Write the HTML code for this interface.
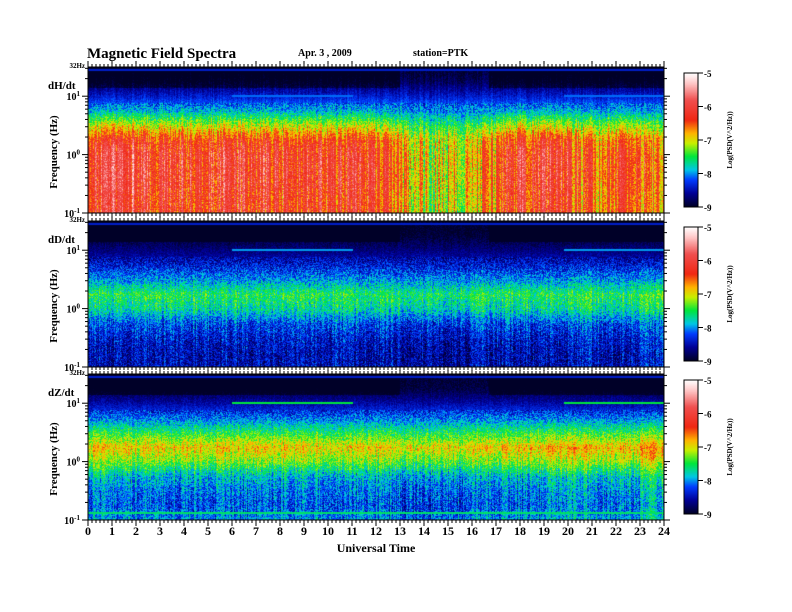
<!DOCTYPE html>
<html><head><meta charset="utf-8">
<style>
body{margin:0;background:#fff;width:792px;height:612px;overflow:hidden;position:relative;font-family:"Liberation Serif",serif;}
canvas{position:absolute;}
svg{position:absolute;left:0;top:0;}
</style></head><body>
<canvas id="c0" width="576" height="146" style="left:88px;top:67px"></canvas>
<canvas id="c1" width="576" height="146" style="left:88px;top:221px"></canvas>
<canvas id="c2" width="576" height="146" style="left:88px;top:374px"></canvas>
<canvas id="cb0" width="14" height="134" style="left:684px;top:73px"></canvas>
<canvas id="cb1" width="14" height="134" style="left:684px;top:227px"></canvas>
<canvas id="cb2" width="14" height="134" style="left:684px;top:380px"></canvas>
<svg id="ov" width="792" height="612">
<text x="87" y="58" font-size="15" font-weight="bold">Magnetic  Field  Spectra</text>
<text x="298" y="56" font-size="10" font-weight="bold">Apr. 3  , 2009</text>
<text x="413" y="56" font-size="10" font-weight="bold">station=PTK</text>
<text x="376" y="552" font-size="12" font-weight="bold" text-anchor="middle">Universal  Time</text>
</svg>
<script>
// ---- data ----
const hours = [0,1,2,3,4,5,6,7,8,9,10,11,12,13,14,15,16,17,18,19,20,21,22,23,24];
const freqNodes = [1.5,1.25,1.0,0.75,0.5,0.25,0,-0.25,-0.5,-0.75,-1];
const profileDH = [-9.0,-8.8,-8.4,-7.9,-7.1,-6.4,-6.2,-6.2,-6.2,-6.3,-6.3];
const profileDD = [-9.0,-8.95,-8.7,-8.4,-8.0,-7.5,-7.7,-8.2,-8.4,-8.5,-8.5];
const profileDZ = [-9.0,-8.9,-8.55,-8.1,-7.5,-6.9,-7.3,-7.9,-8.1,-8.2,-8.0];
const activityDH = [0.2,0.3,0.1,0.1,0,0.1,0.1,0.1,0,0.1,0,0,-0.2,-0.6,-0.8,-0.7,-0.5,0,0.1,0.1,-0.2,-0.3,-0.1,-0.2];
const activityDD = [0,0,0,0,0,0,0,0,0,0,0,0,0,-0.1,-0.1,-0.1,0,0,0,0,0.1,0,0,0.1];
const activityDZ = [0,0,0,0,0,0,0,0,0,0,0,0,0,-0.1,-0.1,-0.1,0,0,0,0.1,0.2,0,0.1,0.3];
const lineIntervals = [[6,11],[19.8,24]];
const cbTicks = [-5,-6,-7,-8,-9];
const panelNames = ['dH/dt','dD/dt','dZ/dt'];

const panels=[
 {c:'c0',top:67,prof:profileDH,act:activityDH,stripe:0.55,noise:0.35,line:-8.1},
 {c:'c1',top:221,prof:profileDD,act:activityDD,stripe:0.2,noise:0.35,line:-8.0},
 {c:'c2',top:374,prof:profileDZ,act:activityDZ,stripe:0.25,noise:0.35,line:-7.5}
];
const W=576,H=146,X0=88;
const xs=h=>X0+h/24*W;
const yu=(top,u)=>top+(1.5-u)/2.5*H;

const stops=[[-9,[0,0,40]],[-8.6,[0,0,150]],[-8.2,[0,60,255]],[-7.9,[0,200,230]],[-7.5,[0,230,60]],[-7.1,[200,240,0]],[-6.8,[255,180,0]],[-6.4,[240,40,20]],[-5.8,[240,80,80]],[-5.3,[255,200,200]],[-5,[255,255,255]]];
function cmap(v){
 if(v<=stops[0][0])return stops[0][1];
 for(let i=1;i<stops.length;i++){if(v<=stops[i][0]){const a=stops[i-1],b=stops[i],t=(v-a[0])/(b[0]-a[0]);return a[1].map((c,k)=>c+(b[1][k]-c)*t);}}
 return stops[stops.length-1][1];
}
function hash(a,b){let h=(a*374761393+b*668265263)^0x5bd1e995;h=(h^(h>>>13))*1274126177;h=h^(h>>>16);return ((h>>>0)%10000)/10000;}
function interp(arr,u){const i=(1.5-u)/0.25;const i0=Math.max(0,Math.min(arr.length-2,Math.floor(i)));const t=Math.min(1,Math.max(0,i-i0));return arr[i0]+(arr[i0+1]-arr[i0])*t;}

panels.forEach((p,pi)=>{
 const ctx=document.getElementById(p.c).getContext('2d');
 const img=ctx.createImageData(W,H);
 for(let x=0;x<W;x++){
  const h=x/W*24;const hi=Math.min(23,Math.floor(h));
  const col=(hash(x,pi*7+1)-0.5)*2;
  const inLine=lineIntervals.some(r=>h>=r[0]&&h<=r[1]);
  const dark=(h<13||h>16.7);
  for(let y=0;y<H;y++){
   const u=1.5-y/H*2.5;
   let v=interp(p.prof,u);
   const w=Math.max(0,Math.min(1,(0.9-u)/0.8));
   v+=p.act[hi]*w;
   v+=col*p.stripe*Math.max(0.2,w);
   v+=(hash(x*3+y,y*17+pi)-0.5)*2*p.noise*(u<0.9?1:0.4);
   if(dark&&u>1.15)v-=0.25;
   if(y<4&&y>=2)v=-8.4;
   if(inLine&&Math.abs(yu(0,u)-yu(0,1.02))<1.0)v=p.line;
   if(pi==2&&y>=H-8&&y<=H-7)v=-7.6;
   const c=cmap(v),k=(y*W+x)*4;
   img.data[k]=c[0];img.data[k+1]=c[1];img.data[k+2]=c[2];img.data[k+3]=255;
  }
 }
 ctx.putImageData(img,0,0);
 const cb=document.getElementById('cb'+pi).getContext('2d');
 for(let y=0;y<134;y++){const v=-5-y/133*4;const c=cmap(v);cb.fillStyle=`rgb(${c[0]|0},${c[1]|0},${c[2]|0})`;cb.fillRect(0,y,14,1);}
});

const svg=document.getElementById('ov');const NS='http://www.w3.org/2000/svg';
function mk(t,a,parent){const e=document.createElementNS(NS,t);for(const k in a)e.setAttribute(k,a[k]);(parent||svg).appendChild(e);return e;}
panels.forEach((p,pi)=>{
 const g=mk('g',{});
 
 
 mk('rect',{x:X0,y:p.top,width:W,height:H,fill:'none',stroke:'#000','stroke-width':1},g);
 hours.forEach(h=>{
  const x=xs(h);
  mk('line',{x1:x,y1:p.top,x2:x,y2:p.top-6,stroke:'#000'},g);
  mk('line',{x1:x,y1:p.top+H,x2:x,y2:p.top+H+6,stroke:'#000'},g);
  if(h<24)for(let m=1;m<6;m++){const xm=xs(h+m/6);mk('line',{x1:xm,y1:p.top,x2:xm,y2:p.top-3,stroke:'#000'},g);mk('line',{x1:xm,y1:p.top+H,x2:xm,y2:p.top+H+3,stroke:'#000'},g);}
 });
 [[1,'10'],[0,'10'],[-1,'10']].forEach(([u,s],i)=>{
  const y=yu(p.top,u);
  mk('line',{x1:X0-6,y1:y,x2:X0,y2:y,stroke:'#000'},g);
  mk('line',{x1:X0+W,y1:y,x2:X0+W+6,y2:y,stroke:'#000'},g);
  const t=mk('text',{x:X0-8,y:y+4,'font-size':10,'font-weight':'bold','text-anchor':'end'},g);
  t.textContent=s;
  const sp=mk('tspan',{dy:-4,'font-size':7},t);sp.textContent=['1','0','-1'][i];
 });
 for(let d=-1;d<1.5;d++)for(let m=2;m<10;m++){const u=d+Math.log10(m);if(u>1.5)break;const y=yu(p.top,u);mk('line',{x1:X0-3,y1:y,x2:X0,y2:y,stroke:'#000'},g);mk('line',{x1:X0+W,y1:y,x2:X0+W+3,y2:y,stroke:'#000'},g);}
 const t32=mk('text',{x:X0-3,y:p.top+1,'font-size':7,'font-weight':'bold','text-anchor':'end'},g);t32.textContent='32Hz';
 const pl=mk('text',{x:48,y:p.top+22,'font-size':11,'font-weight':'bold'},g);pl.textContent=panelNames[pi];
 
 const yt=mk('text',{x:0,y:0,'font-size':11,'font-weight':'bold','text-anchor':'middle',transform:`translate(57,${p.top+85}) rotate(-90)`},g);yt.textContent='Frequency  (Hz)';
 
 const cy=p.top+6;
 mk('rect',{x:684,y:cy,width:14,height:134,fill:'none',stroke:'#000'},g);
 cbTicks.forEach((v,i)=>{const y=cy+(-5-v)/4*134;mk('line',{x1:698,y1:y,x2:703,y2:y,stroke:'#000'},g);const tt=mk('text',{x:704,y:y+4,'font-size':9,'font-weight':'bold'},g);tt.textContent=String(v);});
 const ct=mk('text',{x:0,y:0,'font-size':7,'font-weight':'bold','text-anchor':'middle',transform:`translate(732,${cy+67}) rotate(-90)`},g);ct.textContent='Log(PSD(V^2/Hz))';
 
});
hours.forEach(h=>{const t=mk('text',{x:xs(h),y:535,'font-size':12,'font-weight':'bold','text-anchor':'middle'});t.textContent=String(h);
 
 });
</script>
</body></html>
